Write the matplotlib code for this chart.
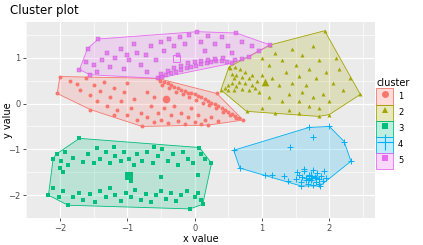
import matplotlib.pyplot as plt
from matplotlib.patches import Patch, Polygon
from matplotlib.lines import Line2D
from matplotlib.legend_handler import HandlerTuple

# cluster 1 (red)
x1 = [-0.52, -0.45, -0.40, -0.35, -0.30, -0.25, -0.20, -0.15, -0.10, -0.05, 0.00, 0.05, 0.10,
      0.15, 0.20, 0.25, 0.30, 0.35, 0.40, 0.45, 0.50, 0.55, 0.60, 0.66, 0.72,
      -0.48, -0.38, -0.28, -0.18, -0.08, 0.02, 0.12, 0.22, 0.32, 0.42, 0.52, 0.62, 0.33,
      -2.00, -2.04, -1.85, -1.75, -1.70, -1.62, -1.55, -1.50, -1.45, -1.40, -1.35, -1.30,
      -1.25, -1.20, -1.15, -1.10, -1.05, -1.00, -0.95, -0.90, -0.85, -0.80, -0.78, -0.70,
      -0.65, -0.60, -0.55, -0.50, -0.45, -0.40, -0.35, -0.30, -0.25, -0.20, -0.15, -0.10,
      -0.05, 0.00, 0.05, 0.10, 0.15, 0.20, 0.25, 0.35, -1.55, -0.55, -1.20, -0.70, -0.60, -1.00]
y1 = [0.50, 0.47, 0.44, 0.40, 0.36, 0.33, 0.30, 0.27, 0.24, 0.22, 0.20, 0.17, 0.14,
      0.10, 0.06, 0.02, -0.02, -0.06, -0.10, -0.15, -0.19, -0.23, -0.27, -0.32, -0.36,
      0.40, 0.33, 0.26, 0.20, 0.14, 0.08, 0.02, -0.04, -0.10, -0.18, -0.25, -0.32, 0.22,
      0.59, 0.22, 0.50, 0.42, 0.30, 0.55, 0.18, 0.40, 0.05, 0.28, 0.48, -0.05,
      0.15, 0.35, -0.15, 0.05, 0.25, -0.25, -0.10, 0.10, -0.35, -0.20, -0.50, -0.30,
      -0.05, -0.40, -0.20, -0.35, -0.10, -0.42, -0.25, -0.05, -0.38, -0.20, -0.45, -0.30,
      -0.10, -0.40, -0.25, -0.45, -0.35, -0.47, -0.30, -0.38, -0.13, 0.55, -0.25, 0.25, 0.15, 0.45]

# cluster 2 (olive)
x2 = [0.39, 0.45, 0.50, 0.55, 0.58, 0.55, 0.52, 0.60, 0.68, 0.75, 0.62, 0.70, 0.66, 0.74,
      0.80, 0.85, 0.62, 0.70, 0.50, 0.58, 0.80, 0.90, 0.95, 0.85, 0.92, 1.00,
      0.77, 1.00, 1.20, 1.40, 1.55, 1.84, 2.00, 2.46, 1.93, 1.12, 0.51, 1.00, 1.10, 1.20,
      1.30, 1.35, 1.45, 1.50, 1.55, 1.60, 1.65, 1.70, 1.75, 1.80, 1.85, 1.90, 1.95, 2.05,
      2.10, 2.20, 2.30, 1.25, 1.40, 1.55, 1.70, 1.10, 1.30, 2.00, 1.60, 1.45, 1.75, 1.85,
      1.15, 2.15]
y2 = [0.30, 0.35, 0.40, 0.45, 0.55, 0.65, 0.78, 0.80, 0.76, 0.70, 0.62, 0.58, 0.48, 0.45,
      0.55, 0.40, 0.38, 0.32, 0.30, 0.30, 0.30, 0.35, 0.25, 0.62, 0.50, 0.62,
      -0.17, -0.10, -0.20, -0.15, -0.20, -0.28, -0.24, 0.20, 1.59, 1.28, 0.80, 1.00, 0.85, 1.10,
      0.95, 0.70, 1.20, 0.85, 0.60, 1.05, 0.40, 0.75, 1.25, 0.55, 0.95, 0.20, 0.70, 0.45,
      1.00, 0.30, 0.55, 0.40, 0.20, 0.05, -0.05, 0.15, 0.05, 0.05, 0.25, 0.45, 0.15, -0.10,
      0.55, 0.75]

# cluster 3 (green)
x3 = [-2.10, -2.05, -1.98, -1.92, -1.88, -1.80, -1.71, -1.65, -1.58, -1.50, -1.45, -1.40,
      -1.32, -1.25, -1.18, -1.10, -1.05, -0.98, -0.90, -0.85, -0.78, -0.70, -0.62, -0.55,
      -0.48, -0.40, -0.32, -0.25, -0.18, -0.10, -0.02, 0.07, 0.10, 0.15, 0.25, -1.20, -0.60,
      -1.95, -2.00, -1.00, -0.95, -0.50, 0.05,
      -2.17, -2.10, -2.02, -1.95, -1.88, -1.80, -1.72, -1.65, -1.55, -1.48, -1.40, -1.32,
      -1.25, -1.18, -1.10, -1.02, -0.95, -0.88, -0.80, -0.72, -0.65, -0.58, -0.50, -0.42,
      -0.35, -0.28, -0.20, -0.12, -0.07, 0.00, 0.05, 0.10, 0.12]
y3 = [-1.20, -1.10, -1.25, -1.05, -1.35, -1.18, -0.76, -1.28, -1.10, -1.30, -0.98, -1.20,
      -1.05, -1.30, -1.15, -1.25, -1.05, -1.20, -1.35, -1.10, -1.25, -1.05, -1.30, -1.15,
      -1.00, -1.25, -1.10, -1.35, -1.05, -1.20, -1.30, -0.96, -1.10, -1.20, -1.30, -0.95, -0.95,
      -1.50, -1.40, -1.55, -1.70, -1.60, -1.55,
      -2.00, -1.85, -2.05, -1.90, -2.22, -2.05, -1.95, -2.10, -1.98, -2.15, -1.92, -2.05,
      -1.85, -2.00, -2.12, -1.95, -2.05, -1.88, -2.10, -1.98, -2.15, -2.00, -1.90, -2.08,
      -1.95, -2.12, -2.00, -1.92, -2.30, -2.05, -1.95, -2.10, -2.20]

# cluster 4 (blue)
x4 = [0.58, 0.67, 1.05, 1.15, 1.33, 1.38, 1.42, 1.75, 1.70, 2.00, 2.22, 2.32, 1.86,
      1.50, 1.55, 1.58, 1.62, 1.65, 1.68, 1.70, 1.72, 1.75, 1.78, 1.80, 1.82, 1.85, 1.88,
      1.90, 1.92, 1.60, 1.66, 1.74, 1.76, 1.84, 1.52, 1.63, 1.95, 1.70, 1.80, 1.58]
y4 = [-1.02, -1.41, -1.55, -1.57, -1.58, -1.70, -0.95, -0.72, -0.52, -0.50, -0.83, -1.26, -1.80,
      -1.65, -1.55, -1.72, -1.48, -1.62, -1.75, -1.55, -1.68, -1.45, -1.60, -1.72, -1.52, -1.65, -1.58,
      -1.70, -1.48, -1.60, -1.68, -1.62, -1.78, -1.76, -1.50, -1.42, -1.62, -1.65, -1.62, -1.80]

# cluster 5 (magenta)
x5 = [-0.55, -0.48, -0.42, -0.35, -0.28, -0.20, -0.12, -0.05, 0.02, 0.10, 0.18, 0.25, 0.32,
      0.40, 0.48, 0.55, -0.50, -0.40, -0.30, -0.20, -0.10, 0.00, 0.10, 0.20, 0.30, 0.42,
      0.60, 0.70, 0.80,
      -1.71, -1.59, -1.43, -1.55, -1.62, -1.50, -1.45, -1.38, -1.30, -1.25, -1.18, -1.10,
      -1.05, -0.98, -0.90, -0.85, -0.80, -0.72, -0.65, -0.58, -0.50, -0.45, -0.38, -0.30,
      -0.22, -0.15, -0.08, 0.04, 0.10, 0.20, 0.30, 0.40, 0.50, 0.62, 0.70, 0.85, 1.12, 0.95,
      -1.00, -0.70, -0.25, 0.15, 0.55]
y5 = [0.55, 0.58, 0.62, 0.66, 0.70, 0.74, 0.78, 0.80, 0.83, 0.86, 0.88, 0.90, 0.92,
      0.92, 0.90, 0.88, 0.65, 0.72, 0.78, 0.83, 0.88, 0.91, 0.94, 0.96, 0.98, 1.00,
      0.95, 0.98, 1.02,
      0.74, 1.20, 1.41, 0.63, 0.90, 0.85, 0.70, 0.95, 1.10, 0.80, 1.00, 1.20,
      0.75, 0.95, 1.30, 1.10, 0.85, 1.05, 1.25, 0.95, 1.35, 1.15, 1.40, 1.25,
      1.45, 1.30, 1.50, 1.57, 1.35, 1.48, 1.30, 1.45, 1.25, 1.54, 1.35, 1.25, 1.28, 1.15,
      1.05, 0.70, 1.05, 1.15, 1.10]

centers_x = [-0.42, 1.05, -0.97, 1.72, -0.27]
centers_y = [0.11, 0.48, -1.59, -1.58, 0.98]

labels = ['1', '2', '3', '4', '5']
colors = ['#F8766D', '#A3A500', '#00BF7D', '#00B0F6', '#E76BF3']
markers = ['o', '^', 's', '+', 's']


def hull(pts):
    pts = sorted(set(pts))
    def cross(o, a, b):
        return (a[0] - o[0]) * (b[1] - o[1]) - (a[1] - o[1]) * (b[0] - o[0])
    lower, upper = [], []
    for p in pts:
        while len(lower) >= 2 and cross(lower[-2], lower[-1], p) <= 0:
            lower.pop()
        lower.append(p)
    for p in reversed(pts):
        while len(upper) >= 2 and cross(upper[-2], upper[-1], p) <= 0:
            upper.pop()
        upper.append(p)
    return lower[:-1] + upper[:-1]


plt.rcParams['font.family'] = 'DejaVu Sans'
fig = plt.figure(figsize=(4.23, 2.45), dpi=100)
ax = fig.add_axes([0.062, 0.110, 0.825, 0.800])
ax.set_facecolor('#EBEBEB')

xs = [x1, x2, x3, x4, x5]
ys = [y1, y2, y3, y4, y5]
for i in range(5):
    h = hull(list(zip(xs[i], ys[i])))
    ax.add_patch(Polygon(h, closed=True, facecolor=colors[i], alpha=0.2, edgecolor='none', zorder=2))
    ax.add_patch(Polygon(h, closed=True, facecolor='none', edgecolor=colors[i], lw=0.6, zorder=2))
    if markers[i] == '+':
        ax.scatter(xs[i], ys[i], s=16, marker='+', c=colors[i], linewidths=0.7, zorder=3)
        ax.scatter(centers_x[i], centers_y[i], s=45, marker='+', c=colors[i], linewidths=0.9, zorder=4)
    elif i == 4:
        ax.scatter(xs[i], ys[i], s=9, marker='s', facecolors=colors[i], edgecolors='#B050C0',
                   linewidths=0.3, alpha=0.8, zorder=3)
        ax.scatter(centers_x[i], centers_y[i], s=28, marker='s', facecolors='none',
                   edgecolors=colors[i], linewidths=0.7, zorder=4)
    else:
        ax.scatter(xs[i], ys[i], s=8, marker=markers[i], c=colors[i], linewidths=0, zorder=3)
        ax.scatter(centers_x[i], centers_y[i], s=30, marker=markers[i], c=colors[i], linewidths=0, zorder=4)

ax.set_xlim(-2.39, 2.68)
ax.set_ylim(-2.48, 1.78)
ax.set_xticks([-2, -1, 0, 1, 2])
ax.set_yticks([-2, -1, 0, 1])
ax.set_xticks([-2.5, -1.5, -0.5, 0.5, 1.5, 2.5], minor=True)
ax.set_yticks([-2.5, -1.5, -0.5, 0.5, 1.5], minor=True)
ax.grid(which='major', color='white', lw=0.9, zorder=0)
ax.grid(which='minor', color='white', lw=0.45, zorder=0)
ax.set_axisbelow(True)
for s in ax.spines.values():
    s.set_visible(False)
ax.tick_params(which='major', length=2.5, width=0.6, color='#333333', labelsize=6, labelcolor='#4D4D4D', pad=1.5)
ax.tick_params(which='minor', length=0)
ax.set_xlabel('x value', fontsize=7, labelpad=1)
fig.text(0.006, 0.51, 'y value', fontsize=7, rotation=90, ha='left', va='center')
fig.text(0.024, 0.93, 'Cluster plot', fontsize=8.5, ha='left', va='bottom')

handles = []
for i in range(5):
    if markers[i] == '+':
        mk = Line2D([], [], marker='+', color=colors[i], ls='none', ms=12, mew=0.8)
    else:
        mk = Line2D([], [], marker=markers[i], color=colors[i], ls='none', ms=5, mew=0)
    box = Patch(facecolor=colors[i] + '40', edgecolor=colors[i], lw=0.6)
    handles.append((box, mk))
fig.legend(handles, labels, handler_map={tuple: HandlerTuple(ndivide=1)},
           title='cluster', loc='center left', bbox_to_anchor=(0.876, 0.495),
           frameon=False, fontsize=6, title_fontsize=7, handlelength=2.0, handleheight=2.6,
           labelspacing=0.0, handletextpad=0.6, borderpad=0.2, alignment='left')

fig.savefig('out.png', dpi=100)
